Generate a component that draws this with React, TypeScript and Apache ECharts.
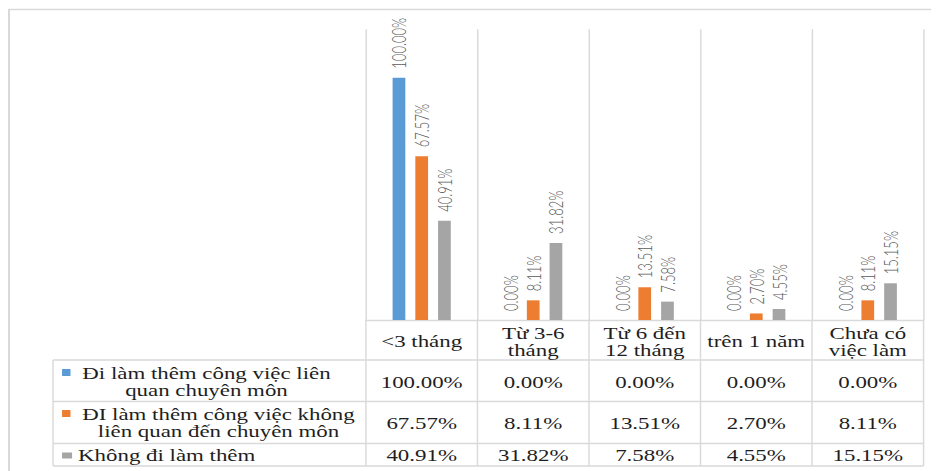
import React, { useEffect, useRef } from "react";
import * as echarts from "echarts";

// Categories (time until first job) and the three groups compared
const categories = ["<3 tháng", "Từ 3-6\ntháng", "Từ 6 đến\n12 tháng", "trên 1 năm", "Chưa có\nviệc làm"];
const seriesLabels = [
  "Đi làm thêm công việc liên\nquan chuyên môn",
  "ĐI làm thêm công việc không\nliên quan đến chuyên môn",
  "Không đi làm thêm",
];
const relatedJob = [100.0, 0.0, 0.0, 0.0, 0.0];
const unrelatedJob = [67.57, 8.11, 13.51, 2.7, 8.11];
const noJob = [40.91, 31.82, 7.58, 4.55, 15.15];
const colors = ["#5B9BD5", "#ED7D31", "#A5A5A5"];

const seriesData = [relatedJob, unrelatedJob, noJob];

// The drawing is laid out narrow and widened horizontally
const STRETCH = 1.43;
const OUT_W = 931;
const OUT_H = 463;
const W = OUT_W / STRETCH;
const H = OUT_H;

const GRID_LEFT = 250.3;
const GRID_RIGHT = 10.8;
const GRID_TOP = 21.2;
const BASE_Y = 312;
const ROW_LINES = [352, 393.5, 435.5, 458];
const TABLE_LEFT = 31.5;
const LINE_COLOR = "#d9d9d9";
const SERIF = "Liberation Serif";
const TEXT_COLOR = "#1e1e1e";

const fmt = (v: number) => v.toFixed(2) + "%";

export default function App() {
  const ref = useRef<HTMLDivElement>(null);

  useEffect(() => {
    if (!ref.current) return;
    const chart = echarts.init(ref.current, null, { renderer: "svg", width: W, height: H });

    chart.setOption({
      animation: false,
      grid: { left: GRID_LEFT, right: GRID_RIGHT, top: GRID_TOP, bottom: H - BASE_Y, containLabel: false },
      xAxis: {
        type: "category",
        data: categories,
        boundaryGap: true,
        axisLine: { show: true, lineStyle: { color: LINE_COLOR, width: 1.3 } },
        axisTick: { show: false },
        splitLine: { show: true, lineStyle: { color: LINE_COLOR, width: 1 } },
        axisLabel: {
          interval: 0,
          margin: 21.5,
          verticalAlign: "middle",
          fontFamily: SERIF,
          fontSize: 16,
          lineHeight: 17,
          color: TEXT_COLOR,
        },
      },
      yAxis: {
        type: "value",
        min: 0,
        max: 120,
        show: false,
        splitLine: { show: false },
      },
      series: seriesData.map((data, si) => ({
        type: "bar",
        name: seriesLabels[si].replace("\n", " "),
        data,
        barWidth: 8.9,
        barGap: "78.6%",
        itemStyle: { color: colors[si] },
        label: {
          show: true,
          position: "top",
          rotate: 90,
          align: "left",
          verticalAlign: "middle",
          distance: 9,
          fontFamily: "Lato",
          fontWeight: 300,
          fontSize: 13,
          color: "#595959",
          formatter: (p: any) => fmt(p.value as number),
        },
      })),
    });

    // Data table under the plot, aligned to the category axis
    const centers = categories.map((_, i) => chart.convertToPixel({ xAxisIndex: 0 }, i) as number);
    const band = centers[1] - centers[0];
    const bounds = [...centers.map((c) => c - band / 2), centers[centers.length - 1] + band / 2];
    const tableRight = bounds[bounds.length - 1];
    const tableBottom = ROW_LINES[ROW_LINES.length - 1];

    const graphics: any[] = [];
    graphics.push({
      type: "rect",
      silent: true,
      shape: { x: 0.7, y: 1.5, width: 3000, height: 3000 },
      style: { fill: "none", stroke: LINE_COLOR, lineWidth: 1.5 },
    });
    ROW_LINES.forEach((y) =>
      graphics.push({
        type: "line",
        silent: true,
        shape: { x1: TABLE_LEFT, y1: y, x2: tableRight, y2: y },
        style: { stroke: LINE_COLOR, lineWidth: 1.3 },
      })
    );
    graphics.push({
      type: "line",
      silent: true,
      shape: { x1: TABLE_LEFT, y1: ROW_LINES[0], x2: TABLE_LEFT, y2: tableBottom },
      style: { stroke: LINE_COLOR, lineWidth: 1 },
    });
    bounds.forEach((x) =>
      graphics.push({
        type: "line",
        silent: true,
        shape: { x1: x, y1: BASE_Y, x2: x, y2: tableBottom },
        style: { stroke: LINE_COLOR, lineWidth: 1 },
      })
    );

    // Row headers: colour key + wrapped series name
    const keyBoxes = [
      { y: 361, w: 5.9, h: 7 },
      { y: 402, w: 5.9, h: 7 },
      { y: 444.5, w: 7, h: 6 },
    ];
    const nameAnchors = [
      { x: 138.8, y: 373.5, align: "center" },
      { x: 147.2, y: 414.5, align: "center" },
      { x: 49, y: 447, align: "left" },
    ];
    const valueRowsY = [374, 415, 447];

    seriesLabels.forEach((label, si) => {
      const k = keyBoxes[si];
      graphics.push({
        type: "rect",
        silent: true,
        shape: { x: 37.8, y: k.y, width: k.w, height: k.h },
        style: { fill: colors[si] },
      });
      const a = nameAnchors[si];
      graphics.push({
        type: "text",
        silent: true,
        style: {
          text: label,
          x: a.x,
          y: a.y,
          align: a.align,
          verticalAlign: "middle",
          fontFamily: SERIF,
          fontSize: 16,
          lineHeight: 17,
          fill: TEXT_COLOR,
        },
      });
      seriesData[si].forEach((v, ci) =>
        graphics.push({
          type: "text",
          silent: true,
          style: {
            text: fmt(v),
            x: centers[ci],
            y: valueRowsY[si],
            align: "center",
            verticalAlign: "middle",
            fontFamily: SERIF,
            fontSize: 16,
            fill: TEXT_COLOR,
          },
        })
      );
    });

    chart.setOption({ graphic: graphics });

    return () => chart.dispose();
  }, []);

  return (
    <div style={{ width: OUT_W, height: OUT_H, overflow: "hidden", background: "#fff" }}>
      <div
        ref={ref}
        style={{ width: W, height: H, transform: `scaleX(${STRETCH})`, transformOrigin: "0 0" }}
      />
    </div>
  );
}
